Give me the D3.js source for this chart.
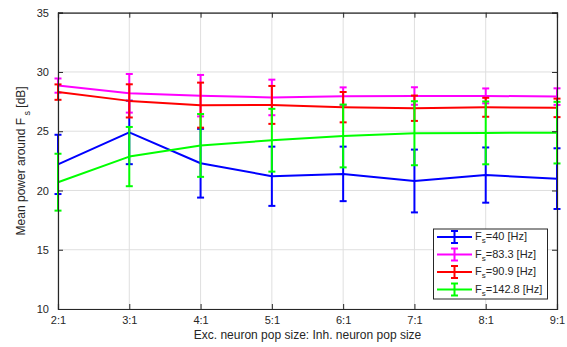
<!DOCTYPE html>
<html>
<head>
<meta charset="utf-8">
<script src="https://cdn.jsdelivr.net/npm/d3@7"></script>
<style>
  html, body { margin: 0; padding: 0; background: #fff; }
  svg { display: block; font-family: "Liberation Sans", Arial, Helvetica, sans-serif; }
</style>
</head>
<body>
<svg id="chart" width="567" height="347"></svg>
<script>
// Excitatory:inhibitory population ratios
const categories = ["2:1", "3:1", "4:1", "5:1", "6:1", "7:1", "8:1", "9:1"];
const yTicks = [10, 15, 20, 25, 30, 35];

// Mean power around Fs (dB) and error half-widths for each stimulation frequency
const fs40Mean   = [22.2, 24.9, 22.3, 21.2, 21.4, 20.8, 21.3, 21.0];
const fs40Err    = [2.5, 2.68, 2.9, 2.5, 2.3, 2.65, 2.33, 2.56];
const fs83Mean   = [28.85, 28.2, 28.0, 27.85, 27.95, 27.97, 27.98, 27.92];
const fs83Err    = [0.6, 1.63, 1.75, 1.5, 0.75, 0.74, 0.63, 0.7];
const fs90Mean   = [28.3, 27.56, 27.2, 27.22, 27.03, 26.94, 27.02, 26.97];
const fs90Err    = [0.65, 1.4, 1.9, 1.6, 1.28, 1.07, 0.8, 0.78];
const fs142Mean  = [20.7, 22.86, 23.8, 24.24, 24.6, 24.83, 24.86, 24.88];
const fs142Err   = [2.4, 2.5, 2.65, 2.65, 2.65, 2.7, 2.65, 2.6];

const seriesNames  = ["40", "83.3", "90.9", "142.8"];
const seriesColors = ["#0000ff", "#ff00ff", "#ff0000", "#00ff00"];

const series = [
  { name: seriesNames[0], color: seriesColors[0], mean: fs40Mean,  err: fs40Err },
  { name: seriesNames[1], color: seriesColors[1], mean: fs83Mean,  err: fs83Err },
  { name: seriesNames[2], color: seriesColors[2], mean: fs90Mean,  err: fs90Err },
  { name: seriesNames[3], color: seriesColors[3], mean: fs142Mean, err: fs142Err }
];

const svg = d3.select("#chart");
const plotLeft = 58, plotRight = 557, plotTop = 12.7, plotBottom = 309;
const axisColor = "#262626";
const gridColor = "#dfdfdf";

const x = d3.scalePoint().domain(categories).range([plotLeft, plotRight]).padding(0);
const y = d3.scaleLinear().domain([10, 35]).range([plotBottom, plotTop]);

// Grid
const grid = svg.append("g");
grid.selectAll("line.vg").data(categories).join("line")
  .attr("x1", d => x(d)).attr("x2", d => x(d))
  .attr("y1", plotTop).attr("y2", plotBottom)
  .attr("stroke", gridColor).attr("stroke-width", 1);
grid.selectAll("line.hg").data(yTicks).join("line")
  .attr("x1", plotLeft).attr("x2", plotRight)
  .attr("y1", d => y(d)).attr("y2", d => y(d))
  .attr("stroke", gridColor).attr("stroke-width", 1);

// Series lines and error bars
const capHalf = 3.5;
const line = d3.line().x((d, i) => x(categories[i])).y(d => y(d));
series.forEach(s => {
  const g = svg.append("g");
  g.append("path")
    .attr("d", line(s.mean))
    .attr("fill", "none")
    .attr("stroke", s.color)
    .attr("stroke-width", 2)
    .attr("stroke-linejoin", "round");
  const eb = g.selectAll("g.eb").data(s.mean.map((m, i) => ({ c: categories[i], m, e: s.err[i] })))
    .join("g");
  eb.append("line")
    .attr("x1", d => x(d.c)).attr("x2", d => x(d.c))
    .attr("y1", d => y(d.m + d.e)).attr("y2", d => y(d.m - d.e))
    .attr("stroke", s.color).attr("stroke-width", 2);
  [1, -1].forEach(sign => {
    eb.append("line")
      .attr("x1", d => x(d.c) - capHalf).attr("x2", d => x(d.c) + capHalf)
      .attr("y1", d => y(d.m + sign * d.e)).attr("y2", d => y(d.m + sign * d.e))
      .attr("stroke", s.color).attr("stroke-width", 2);
  });
});

// Axes (box with inward ticks)
const tickLen = 5;
const fontSize = 11;
const xAxis = svg.append("g").attr("transform", `translate(0,${plotBottom})`)
  .call(d3.axisBottom(x).tickSize(-tickLen).tickPadding(7));
const xAxisTop = svg.append("g").attr("transform", `translate(0,${plotTop})`)
  .call(d3.axisTop(x).tickSize(-tickLen).tickFormat(""));
const yAxis = svg.append("g").attr("transform", `translate(${plotLeft},0)`)
  .call(d3.axisLeft(y).tickValues(yTicks).tickSize(-tickLen).tickPadding(9));
const yAxisRight = svg.append("g").attr("transform", `translate(${plotRight},0)`)
  .call(d3.axisRight(y).tickValues(yTicks).tickSize(-tickLen).tickFormat(""));

[xAxis, xAxisTop, yAxis, yAxisRight].forEach(a => {
  a.select(".domain").attr("stroke", axisColor).attr("stroke-width", 1.2);
  a.selectAll(".tick line").attr("stroke", axisColor).attr("stroke-width", 1);
  a.selectAll(".tick text")
    .attr("fill", axisColor)
    .style("font-size", fontSize + "px")
    .style("font-family", "'Liberation Sans', Arial, sans-serif");
});

// Axis labels
svg.append("text")
  .attr("x", (plotLeft + plotRight) / 2).attr("y", 339)
  .attr("text-anchor", "middle")
  .attr("fill", axisColor)
  .style("font-size", "12px")
  .text("Exc. neuron pop size: Inh. neuron pop size");

const yl = svg.append("text")
  .attr("transform", `translate(25,${(plotTop + plotBottom) / 2}) rotate(-90)`)
  .attr("text-anchor", "middle")
  .attr("fill", axisColor)
  .style("font-size", "12px");
yl.append("tspan").text("Mean power around F");
yl.append("tspan").attr("dy", 5).style("font-size", "9px").text(" s");
yl.append("tspan").attr("dy", -5).text(" [dB]");

// Legend
const lg = svg.append("g");
const lgX = 433.5, lgY = 229, lgW = 114, lgH = 70;
lg.append("rect")
  .attr("x", lgX).attr("y", lgY).attr("width", lgW).attr("height", lgH)
  .attr("fill", "#fff").attr("stroke", axisColor).attr("stroke-width", 1);
const rowY = [237, 254.5, 272, 289.5];
series.forEach((s, i) => {
  const r = lg.append("g").attr("transform", `translate(0,${rowY[i]})`);
  r.append("line").attr("x1", 437).attr("x2", 472).attr("y1", 0).attr("y2", 0)
    .attr("stroke", s.color).attr("stroke-width", 2);
  r.append("line").attr("x1", 454.5).attr("x2", 454.5).attr("y1", -6).attr("y2", 6)
    .attr("stroke", s.color).attr("stroke-width", 2);
  [-6, 6].forEach(dy => {
    r.append("line").attr("x1", 454.5 - capHalf).attr("x2", 454.5 + capHalf)
      .attr("y1", dy).attr("y2", dy)
      .attr("stroke", s.color).attr("stroke-width", 2);
  });
  const t = r.append("text").attr("x", 475).attr("y", 3)
    .attr("fill", axisColor).style("font-size", "11px");
  t.append("tspan").text("F");
  t.append("tspan").attr("dy", 3).style("font-size", "8px").text("s");
  t.append("tspan").attr("dy", -3).text("=" + s.name + " [Hz]");
});
</script>
</body>
</html>
